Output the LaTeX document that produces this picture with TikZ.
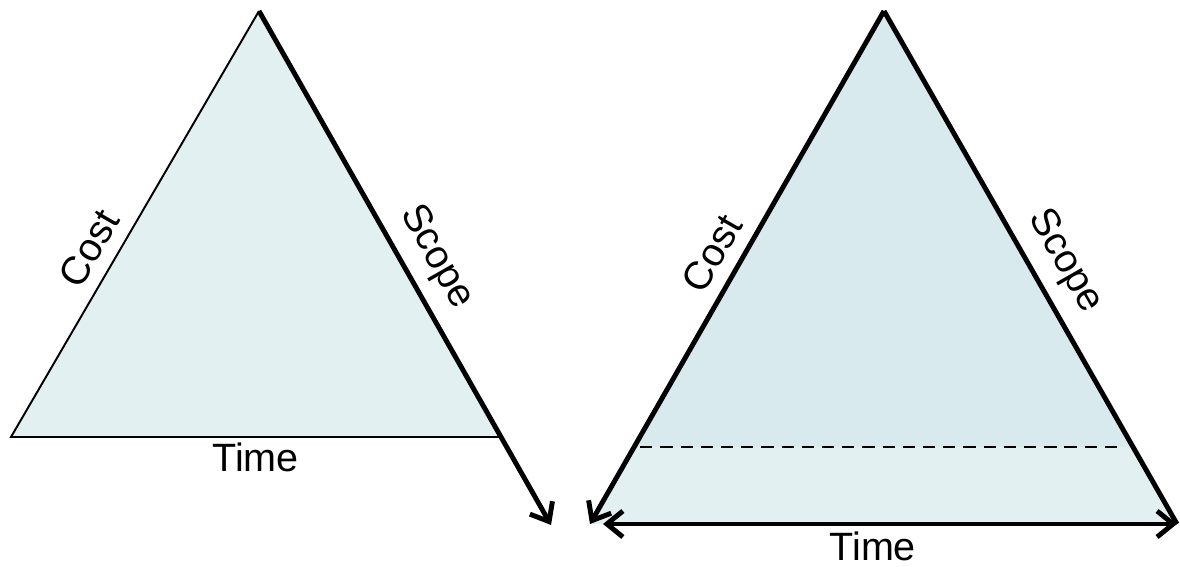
\documentclass[tikz,border=0pt]{standalone}
\usepackage{fontspec}
\setmainfont{Liberation Sans}
\usetikzlibrary{arrows.meta,calc}
\definecolor{palefill}{RGB}{226,240,242}
\definecolor{deepfill}{RGB}{216,234,238}

\begin{document}
\begin{tikzpicture}[
   x=0.02cm, y=-0.02cm,
   thinedge/.style={draw=black, line width=1.1pt},
   thickedge/.style={draw=black, line width=2.8pt},
   barb/.style={-{Straight Barb[length=3.2mm, width=5.2mm]}},
   barbback/.style={{Straight Barb[length=3.2mm, width=5.2mm]}-},
   barbboth/.style={{Straight Barb[length=3.2mm, width=5.2mm]}-{Straight Barb[length=3.2mm, width=5.2mm]}},
   sidelabel/.style={font=\fontsize{22.5}{26}\selectfont, sloped, above, inner sep=7pt},
   baselabel/.style={font=\fontsize{22.5}{26}\selectfont, below, inner sep=3pt}
]
\useasboundingbox (0,0) rectangle (1180,567);

% Left triangle
\coordinate (ltop) at (259,11);
\coordinate (lleft) at (11,437);
\coordinate (lright) at (500,437);
\coordinate (lend) at (551,525);
\fill[palefill] (ltop) -- (lleft) -- (lright) -- cycle;
\draw[thinedge] (lright) -- node[baselabel] (ltime) {Time} (lleft)
   -- node[sidelabel, pos=0.41] (lcost) {Cost} (ltop);
\draw[thickedge, barb] (ltop) -- node[sidelabel, pos=0.51] (lscope) {Scope} (lend);

% Right triangle
\coordinate (rtop) at (884,11);
\coordinate (rleft) at (590,524);
\coordinate (rright) at (1177,524);
\coordinate (rbase) at (603,524);
\coordinate (dleft) at ($(rtop)!0.85!(rleft)+(6,0)$);
\coordinate (dright) at ($(rtop)!0.85!(rright)+(-11,0)$);
\fill[palefill] (rtop) -- (rleft) -- (rright) -- cycle;
\fill[deepfill] (rtop) -- ($(rtop)!0.85!(rleft)$) -- ($(rtop)!0.85!(rright)$) -- cycle;
\draw[line width=1.1pt, dash pattern=on 7pt off 4.5pt] (dleft) -- (dright);
\draw[thickedge, barbback] (rleft) -- node[sidelabel, pos=0.5] (rcost) {Cost} (rtop);
\draw[thickedge] (rtop) -- node[sidelabel, pos=0.52] (rscope) {Scope} (rright);
\draw[thickedge, barbboth] (rbase) -- node[baselabel, pos=0.47] (rtime) {Time} (rright);
\end{tikzpicture}
\end{document}
